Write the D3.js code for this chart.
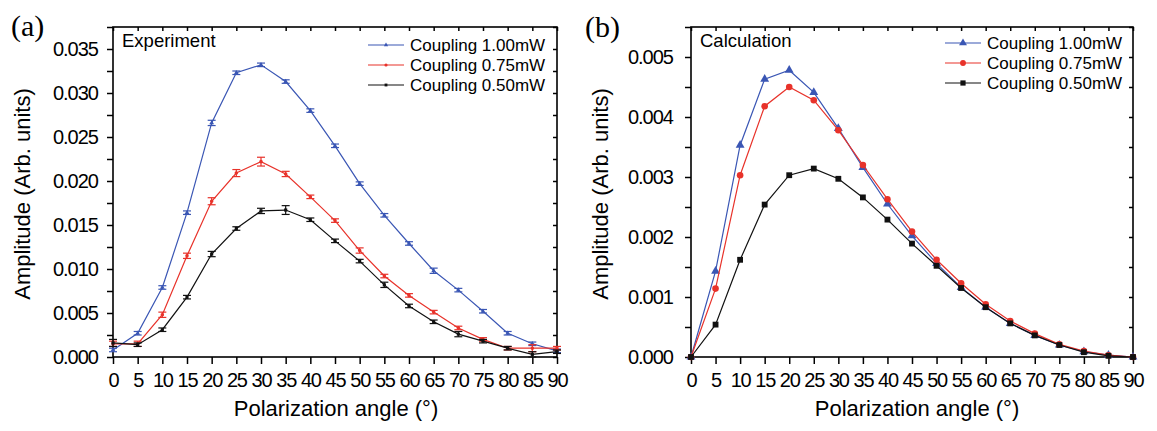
<!DOCTYPE html>
<html>
<head>
<meta charset="utf-8">
<script src="https://cdn.jsdelivr.net/npm/d3@7"></script>
<style>
 body { margin: 0; background: #fff; }
 svg { font-family: "Liberation Sans", Arial, sans-serif; }
</style>
</head>
<body>
<div id="chart"></div>
<script>
/*************
Data
**************/
var angles = [0,5,10,15,20,25,30,35,40,45,50,55,60,65,70,75,80,85,90];
var seriesNames = ["Coupling 1.00mW", "Coupling 0.75mW", "Coupling 0.50mW"];
var seriesColors = ["#3a56b4", "#e8322a", "#111111"];
var seriesShapes = [d3.symbolTriangle, d3.symbolCircle, d3.symbolSquare];

// (a) experiment
var exp100 = [0.0008,0.0027,0.0079,0.0164,0.0266,0.0323,0.0332,0.0313,0.0280,0.0240,0.0197,0.0161,0.0129,0.0098,0.0076,0.0052,0.0027,0.0015,0.0007];
var exp075 = [0.0015,0.0015,0.0048,0.0115,0.0177,0.0209,0.0222,0.0208,0.0182,0.0155,0.0121,0.0092,0.0070,0.0051,0.0033,0.0020,0.0010,0.0010,0.0010];
var exp050 = [0.0016,0.0014,0.0031,0.0068,0.0117,0.0146,0.0166,0.0167,0.0156,0.0132,0.0109,0.0082,0.0058,0.0040,0.0026,0.0018,0.0010,0.0003,0.0006];
var err100 = [0.0002,0.0002,0.0002,0.0002,0.0003,0.0002,0.0002,0.0002,0.0002,0.0002,0.0002,0.0002,0.0002,0.0003,0.0002,0.0002,0.0002,0.0002,0.0002];
var err075 = [0.0003,0.0003,0.0003,0.0003,0.0004,0.0004,0.0005,0.0003,0.0002,0.0002,0.0003,0.0002,0.0002,0.0002,0.0002,0.0002,0.0002,0.0004,0.0002];
var err050 = [0.0004,0.0002,0.0002,0.0002,0.0003,0.0002,0.0003,0.0005,0.0002,0.0002,0.0002,0.0003,0.0002,0.0002,0.0003,0.0002,0.0002,0.0003,0.0002];

// (b) calculation
var calc100 = [0,0.00143,0.00353,0.00463,0.00478,0.00441,0.00381,0.00316,0.00255,0.00202,0.00156,0.00116,0.00083,0.00056,0.00036,0.00020,0.00009,0.00003,0];
var calc075 = [0,0.00114,0.00303,0.00418,0.00450,0.00428,0.00378,0.00320,0.00263,0.00209,0.00162,0.00123,0.00088,0.00060,0.00039,0.00021,0.00010,0.00003,0];
var calc050 = [0,0.00054,0.00162,0.00254,0.00303,0.00314,0.00297,0.00266,0.00229,0.00189,0.00152,0.00115,0.00083,0.00056,0.00036,0.00020,0.00008,0.00002,0];

var xTicks = d3.range(0, 91, 5);
var yTicksA = [0,0.005,0.010,0.015,0.020,0.025,0.030,0.035];
var yTicksB = [0,0.001,0.002,0.003,0.004,0.005];

/*************
Params
**************/
var W = 1157, H = 431;
var svg = d3.select("#chart").append("svg").attr("width", W).attr("height", H);

var panels = [
 { left: 113, right: 557, top: 27, bottom: 357, ymax: 0.0375, yTicks: yTicksA, minor: 0.0025,
   series: [exp100, exp075, exp050], errs: [err100, err075, err050],
   letter: "(a)", letterX: 11, letterY: 36, tag: "Experiment", legX: 368, legY: 45, symSize: 10,
   titleX: 30, xTitleX: 336, tickGap: 16 },
 { left: 691, right: 1133, top: 27, bottom: 357, ymax: 0.0055, yTicks: yTicksB, minor: 0.0005,
   series: [calc100, calc075, calc050], errs: null,
   letter: "(b)", letterX: 585, letterY: 37, tag: "Calculation", legX: 945, legY: 43, symSize: 34,
   titleX: 608, xTitleX: 917, tickGap: 19 }
];

panels.forEach(function(p) {
 var x = d3.scaleLinear().domain([0, 90]).range([p.left, p.right]);
 var y = d3.scaleLinear().domain([0, p.ymax]).range([p.bottom, p.top]);
 var g = svg.append("g");

 // frame
 g.append("rect")
  .attr("x", p.left).attr("y", p.top)
  .attr("width", p.right - p.left).attr("height", p.bottom - p.top)
  .attr("fill", "none").attr("stroke", "#000").attr("stroke-width", 1.6);

 var minorTicks = d3.range(0, p.ymax + 1e-9, p.minor);

 // left axis
 var ax = g.append("g").attr("transform", "translate(" + p.left + ",0)")
  .call(d3.axisLeft(y).tickValues(minorTicks).tickSize(6).tickFormat(function(d) {
    return p.yTicks.some(function(t) { return Math.abs(t - d) < 1e-9; }) ? d3.format(".3f")(d) : "";
  }));
 ax.select(".domain").remove();
 ax.selectAll("line").attr("stroke-width", 1.5);
 ax.selectAll("text").attr("font-size", 20).attr("letter-spacing", -1)
  .attr("x", -p.tickGap + 1).attr("fill", "#000");

 // bottom axis
 var bx = g.append("g").attr("transform", "translate(0," + p.bottom + ")")
  .call(d3.axisBottom(x).tickValues(xTicks).tickSize(7).tickFormat(d3.format("d")));
 bx.select(".domain").remove();
 bx.selectAll("line").attr("stroke-width", 1.5);
 bx.selectAll("text").attr("font-size", 20).attr("y", 16).attr("letter-spacing", -1.2).attr("fill", "#000");

 // top & right inward ticks
 var tx = g.append("g").attr("transform", "translate(0," + p.top + ")")
  .call(d3.axisBottom(x).tickValues(xTicks).tickSize(4).tickFormat(""));
 tx.select(".domain").remove();
 tx.selectAll("line").attr("stroke-width", 1.5);
 var rx = g.append("g").attr("transform", "translate(" + p.right + ",0)")
  .call(d3.axisLeft(y).tickValues(minorTicks).tickSize(4).tickFormat(""));
 rx.select(".domain").remove();
 rx.selectAll("line").attr("stroke-width", 1.5);

 // series
 var line = d3.line().x(function(d, i) { return x(angles[i]); }).y(function(d) { return y(d); });
 p.series.forEach(function(vals, k) {
  var c = seriesColors[k];
  g.append("path").datum(vals).attr("d", line)
   .attr("fill", "none").attr("stroke", c).attr("stroke-width", 1.2);
  if (p.errs) {
   var e = p.errs[k];
   var eb = g.append("g").selectAll("g").data(vals).enter().append("g");
   eb.append("line")
    .attr("x1", function(d, i) { return x(angles[i]); }).attr("x2", function(d, i) { return x(angles[i]); })
    .attr("y1", function(d, i) { return y(d - e[i]); }).attr("y2", function(d, i) { return y(d + e[i]); })
    .attr("stroke", c).attr("stroke-width", 1.2);
   [-1, 1].forEach(function(s) {
    eb.append("line")
     .attr("x1", function(d, i) { return x(angles[i]) - 4; }).attr("x2", function(d, i) { return x(angles[i]) + 4; })
     .attr("y1", function(d, i) { return y(d + s * e[i]); }).attr("y2", function(d, i) { return y(d + s * e[i]); })
     .attr("stroke", c).attr("stroke-width", 1.2);
   });
  }
  g.append("g").selectAll("path").data(vals).enter().append("path")
   .attr("d", d3.symbol().type(seriesShapes[k]).size(p.symSize))
   .attr("transform", function(d, i) { return "translate(" + x(angles[i]) + "," + y(d) + ")"; })
   .attr("fill", c);
 });

 // legend
 seriesNames.forEach(function(name, k) {
  var ly = p.legY + k * 20;
  g.append("line").attr("x1", p.legX).attr("x2", p.legX + 36).attr("y1", ly).attr("y2", ly)
   .attr("stroke", seriesColors[k]).attr("stroke-width", 1.2);
  g.append("path").attr("d", d3.symbol().type(seriesShapes[k]).size(p.symSize * 0.8))
   .attr("transform", "translate(" + (p.legX + 18) + "," + ly + ")").attr("fill", seriesColors[k]);
  g.append("text").attr("x", p.legX + 42).attr("y", ly).attr("dy", "0.35em")
   .attr("font-size", 17).text(name);
 });

 // labels
 g.append("text").attr("x", p.left + 9).attr("y", p.top + 20).attr("font-size", 18.5).text(p.tag);
 g.append("text").attr("x", p.letterX).attr("y", p.letterY).attr("font-size", 30)
  .attr("font-family", "'Liberation Serif', 'Times New Roman', serif").text(p.letter);
 g.append("text").attr("transform", "translate(" + p.titleX + ",194) rotate(-90)")
  .attr("text-anchor", "middle").attr("font-size", 22).text("Amplitude (Arb. units)");
 g.append("text").attr("x", p.xTitleX).attr("y", 416).attr("text-anchor", "middle")
  .attr("font-size", 22).text("Polarization angle (°)");
});
</script>
</body>
</html>
